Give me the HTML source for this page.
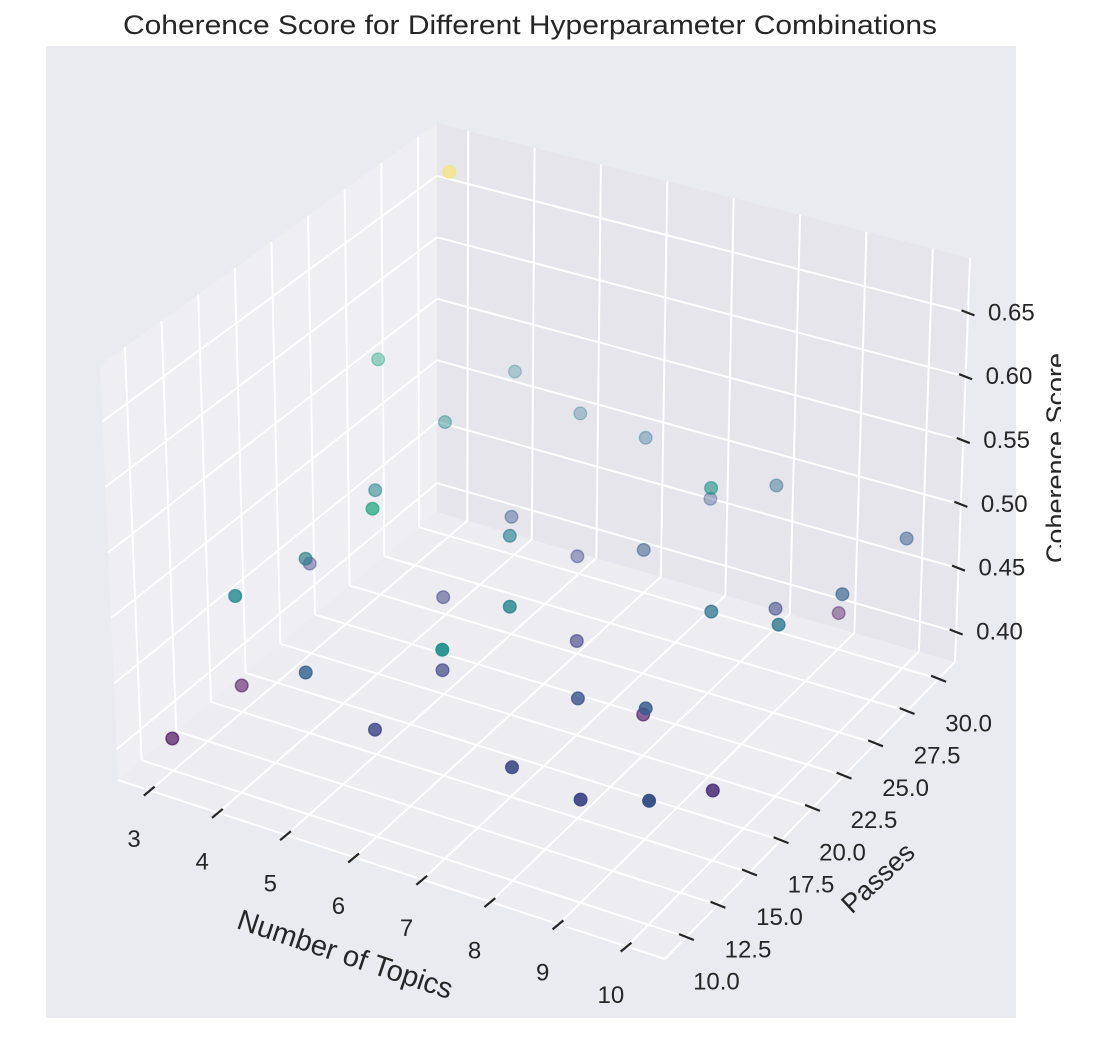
<!DOCTYPE html>
<html>
<head>
<meta charset="utf-8">
<style>
  html,body{margin:0;padding:0;background:#fff;}
  svg{display:block;font-family:"Liberation Sans",sans-serif;}
</style>
</head>
<body>
<svg id="chart" width="1102" height="1040" viewBox="0 0 1102 1040" xmlns="http://www.w3.org/2000/svg">
  <rect x="0" y="0" width="1102" height="1040" fill="#ffffff"/>
  <rect x="46" y="46" width="970" height="972" fill="#eaeaf1"/>
  <text x="530" y="34" text-anchor="middle" font-size="27" fill="#262626" textLength="814" lengthAdjust="spacingAndGlyphs">Coherence Score for Different Hyperparameter Combinations</text>
  <g id="panes"></g>
  <g id="grid"></g>
  <g id="axislines"></g>
  <g id="ticks"></g>
  <g id="points"></g>
  <g id="labels"></g>
  <defs>
    <clipPath id="zclip"><rect x="0" y="0" width="1061" height="1040"/></clipPath>
  </defs>
  <text x="345" y="955" text-anchor="middle" dominant-baseline="central" font-size="29" fill="#262626" transform="rotate(18.5 345 955)">Number of Topics</text>
  <text x="878" y="878" text-anchor="middle" dominant-baseline="central" font-size="27" fill="#262626" transform="rotate(-43 878 878)">Passes</text>
  <g clip-path="url(#zclip)">
    <text x="1056" y="458" text-anchor="middle" dominant-baseline="central" font-size="27" fill="#262626" transform="rotate(-90 1056 458)">Coherence Score</text>
  </g>
</svg>
<script>
const topics = [3,3,3,3,3, 4,4,4,4,4, 5,5,5,5,5, 6,6,6,6,6, 7,7,7,7,7, 8,8,8,8,8, 9,9,9,9,9, 10,10,10,10,10];
const passes = [10,15,20,25,30, 10,15,20,25,30, 10,15,20,25,30, 10,15,20,25,30, 10,15,20,25,30, 10,15,20,25,30, 10,15,20,25,30, 10,15,20,25,30];
const coherence = [
  0.401,0.397,0.447,0.564,0.671,
  0.526,0.511,0.520,0.529,0.524,
  0.484,0.565,0.452,0.469,0.505,
  0.457,0.457,0.515,0.453,0.500,
  0.533,0.521,0.449,0.473,0.466,
  0.461,0.467,0.408,0.536,0.491,
  0.453,0.475,0.502,0.457,0.405,
  0.468,0.429,0.507,0.483,0.478
];
const topicTicks = [3,4,5,6,7,8,9,10];
const passTicks = [10,12.5,15,17.5,20,22.5,25,27.5,30];
const passTickLabels = ["10.0","12.5","15.0","17.5","20.0","22.5","25.0","27.5","30.0"];
const zTicks = [0.40,0.45,0.50,0.55,0.60,0.65];
const zTickLabels = ["0.40","0.45","0.50","0.55","0.60","0.65"];

const T0=2.53,T1=10.56,P0=8.3,P1=31.3,Z0=0.3765,Z1=0.693;
const CB={L:[118,780],F:[665,959],R:[955,662],B:[437,512]};
const CT={L:[100,365],F:[668,527],R:[970,258],B:[437,123]};
function bil(C,u,v){
  const a=(1-u)*(1-v),b=u*(1-v),c=u*v,d=(1-u)*v;
  return [C.L[0]*a+C.F[0]*b+C.R[0]*c+C.B[0]*d, C.L[1]*a+C.F[1]*b+C.R[1]*c+C.B[1]*d];
}
function proj(t,p,z){
  const u=(t-T0)/(T1-T0), v=(p-P0)/(P1-P0), w=(z-Z0)/(Z1-Z0);
  const b=bil(CB,u,v), tp=bil(CT,u,v);
  return [b[0]*(1-w)+tp[0]*w, b[1]*(1-w)+tp[1]*w];
}
const NS="http://www.w3.org/2000/svg";
function mk(tag,attrs,parent){const e=document.createElementNS(NS,tag);for(const k in attrs)e.setAttribute(k,attrs[k]);parent.appendChild(e);return e;}
function poly(pts){return pts.map(p=>p[0].toFixed(1)+","+p[1].toFixed(1)).join(" ");}

const gP=document.getElementById('panes');
let e;
e=mk('polygon',{points:poly([proj(T0,P0,Z0),proj(T1,P0,Z0),proj(T1,P1,Z0),proj(T0,P1,Z0)]),fill:'#ececf1'},gP);


e=mk('polygon',{points:poly([proj(T0,P0,Z0),proj(T0,P1,Z0),proj(T0,P1,Z1),proj(T0,P0,Z1)]),fill:'#eeeef3'},gP);


e=mk('polygon',{points:poly([proj(T0,P1,Z0),proj(T1,P1,Z0),proj(T1,P1,Z1),proj(T0,P1,Z1)]),fill:'#e5e5eb'},gP);



const gG=document.getElementById('grid');
function gl(a,b,name){
  const l=mk('line',{x1:a[0],y1:a[1],x2:b[0],y2:b[1],stroke:'#ffffff','stroke-width':2},gG);
  
  
}
passTicks.forEach(p=>{gl(proj(T0,p,Z0),proj(T0,p,Z1),'left-pane-gridline');gl(proj(T0,p,Z0),proj(T1,p,Z0),'floor-gridline');});
topicTicks.forEach(t=>{gl(proj(t,P1,Z0),proj(t,P1,Z1),'back-pane-gridline');gl(proj(t,P0,Z0),proj(t,P1,Z0),'floor-gridline');});
zTicks.forEach(z=>{gl(proj(T0,P0,z),proj(T0,P1,z),'left-pane-gridline');gl(proj(T0,P1,z),proj(T1,P1,z),'back-pane-gridline');});

const gA=document.getElementById('axislines');
[[proj(T0,P0,Z0),proj(T1,P0,Z0),'x-axis-line'],[proj(T1,P0,Z0),proj(T1,P1,Z0),'y-axis-line'],[proj(T1,P1,Z0),proj(T1,P1,Z1),'z-axis-line']].forEach(s=>{
  const l=mk('line',{x1:s[0][0],y1:s[0][1],x2:s[1][0],y2:s[1][1],stroke:'#ffffff','stroke-width':2},gA);
  
  
});

const gT=document.getElementById('ticks'), gL=document.getElementById('labels');
function tick(pt,dx,dy,a,b,name){
  const l=mk('line',{x1:pt[0]+dx*a,y1:pt[1]+dy*a,x2:pt[0]+dx*b,y2:pt[1]+dy*b,stroke:'#262626','stroke-width':2.2},gT);
  
  
}
function lab(x,y,txt,anchor,name){
  const t=mk('text',{x:x,y:y,'text-anchor':anchor,'dominant-baseline':'central','font-size':24,fill:'#262626'},gL);
  t.textContent=txt;
  
  
}
topicTicks.forEach(t=>{const p=proj(t,P0,Z0);tick(p,-0.77,0.64,-6,8,'x-tick');lab(p[0]-16,p[1]+49,String(t),'middle','x-tick-label');});
passTicks.forEach((v,i)=>{const p=proj(T1,v,Z0);tick(p,0.93,0.37,-8,8,'y-tick');lab(p[0]+30,p[1]+45,passTickLabels[i],'middle','y-tick-label');});
zTicks.forEach((z,i)=>{const p=proj(T1,P1,z);tick(p,0.93,0.36,-7,7,'z-tick');lab(p[0]+20,p[1],zTickLabels[i],'start','z-tick-label');});

const VS=[[68,1,84],[72,36,117],[65,68,135],[53,95,141],[42,120,142],[33,145,140],[34,168,132],[68,191,112],[122,209,81],[189,223,38],[253,231,37]];
function viridis(x){x=Math.max(0,Math.min(1,x))*10;const i=Math.min(9,Math.floor(x)),f=x-i;const a=VS[i],b=VS[i+1];
  return 'rgb('+a.map((c,k)=>Math.round(c+(b[k]-c)*f)).join(',')+')';}

const gPts=document.getElementById('points');
const cmin=Math.min(...coherence), cmax=Math.max(...coherence);
const pts=coherence.map((c,i)=>{
  const u=(topics[i]-T0)/(T1-T0), v=(passes[i]-P0)/(P1-P0), w=(c-Z0)/(Z1-Z0);
  return {i:i,c:c,depth:-(0.433*u-0.75*v+0.375*w)};
});
const dmin=Math.min(...pts.map(p=>p.depth)), dmax=Math.max(...pts.map(p=>p.depth));
pts.sort((a,b)=>b.depth-a.depth);
pts.forEach(p=>{
  const xy=proj(topics[p.i],passes[p.i],p.c);
  const alpha=1-0.68*(p.depth-dmin)/(dmax-dmin);
  const col=viridis((p.c-cmin)/(cmax-cmin));
  const circ=mk('circle',{cx:xy[0].toFixed(1),cy:xy[1].toFixed(1),r:6.3,fill:col,'fill-opacity':alpha.toFixed(3),stroke:col,'stroke-opacity':alpha.toFixed(3),'stroke-width':1.4},gPts);
  
  
});
</script>
</body>
</html>
